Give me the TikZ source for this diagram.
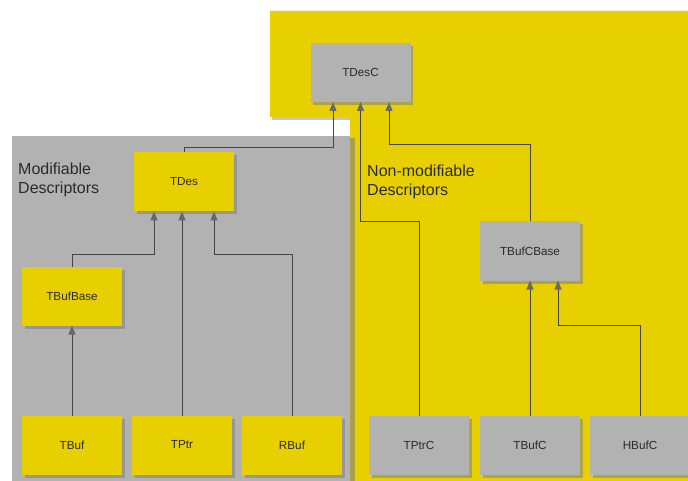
\documentclass[tikz,border=0pt]{standalone}
\usepackage{fontspec}
\setmainfont{Liberation Sans}
\usetikzlibrary{positioning,shadows,arrows.meta}

\definecolor{descyellow}{HTML}{E8D000}
\definecolor{descgray}{HTML}{B2B2B2}
\definecolor{linegray}{HTML}{454545}
\definecolor{tipgray}{HTML}{686868}
\definecolor{textgray}{HTML}{2A2A2A}

\begin{document}
\begin{tikzpicture}[x=1pt, y=-1pt, node distance=10pt,
    descbox/.style={rectangle, minimum width=100pt, minimum height=59pt, inner sep=0pt, outer sep=0pt, text=textgray, font=\fontsize{11.7}{14}\selectfont, drop shadow={opacity=0.55, shadow xshift=2.5pt, shadow yshift=-3pt}},
    ybox/.style={descbox, fill=descyellow},
    gbox/.style={descbox, fill=descgray},
    regionlabel/.style={font=\fontsize{16}{18.5}\selectfont, align=left, inner sep=0pt, anchor=north west, text=textgray},
    derives/.style={draw=linegray, line width=0.9pt, -{Triangle[width=7pt, length=9pt, color=tipgray]}}]

    \useasboundingbox (0,0) rectangle (688,481);
    \fill[white] (0,0) rectangle (688,481);

    % Regions
    \fill[descyellow, drop shadow={opacity=0.45, shadow xshift=2pt, shadow yshift=-3pt}] (270,11) -- (688,11) -- (688,481) -- (350,481) -- (350,117) -- (270,117) -- cycle;
    \fill[descgray, drop shadow={opacity=0.6, shadow xshift=5pt, shadow yshift=-2pt}] (12,136) rectangle (350,481);
    \node[regionlabel] (modlabel) at (18,163) {Modifiable\\Descriptors};
    \node[regionlabel] (nonmodlabel) at (367,165) {Non-modifiable\\Descriptors};

    % Nodes
    \node[gbox] (tdesc) at (360.5,72.5) {TDesC};
    \node[ybox] (tdes) at (184,182) {TDes};
    \node[ybox] (tbuf) at (72,445) {TBuf};
    \node[ybox, right=of tbuf] (tptr) {TPtr};
    \node[ybox, right=of tptr] (rbuf) {RBuf};
    \node[gbox, right=27pt of rbuf] (tptrc) {TPtrC};
    \node[gbox, right=11pt of tptrc] (tbufc) {TBufC};
    \node[gbox, right=of tbufc] (hbufc) {HBufC};
    \node[ybox, above=90pt of tbuf] (tbufbase) {TBufBase};
    \node[gbox, above=135pt of tbufc] (tbufcbase) {TBufCBase};

    % Paths
    \draw[derives] (tdes.north) -- ++(0,-5) -| ([xshift=-27.5pt]tdesc.south);
    \draw[derives] (tptrc.north) -- ++(0,-194) -| (tdesc.south);
    \draw[derives] (tbufcbase.north) -- ++(0,-77) -| ([xshift=28.5pt]tdesc.south);
    \draw[derives] (tbufbase.north) -- ++(0,-12) -| ([xshift=-30pt]tdes.south);
    \draw[derives] (tptr.north) -- (tptr.north |- tdes.south);
    \draw[derives] (rbuf.north) -- ++(0,-161) -| ([xshift=30pt]tdes.south);
    \draw[derives] (tbuf.north) -- (tbufbase.south);
    \draw[derives] (tbufc.north) -- (tbufc.north |- tbufcbase.south);
    \draw[derives] (hbufc.north) -- ++(0,-90) -| ([xshift=28pt]tbufcbase.south);
\end{tikzpicture}
\end{document}
